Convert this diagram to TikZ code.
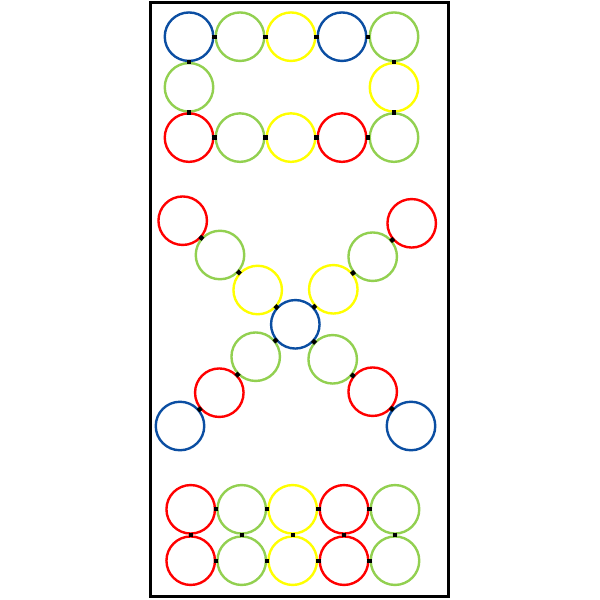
\documentclass[tikz,border=0pt]{standalone}
\usetikzlibrary{calc}
\definecolor{rblue}{HTML}{0B4EA2}
\definecolor{rgreen}{HTML}{92D050}
\definecolor{ryellow}{HTML}{FFFF00}
\definecolor{rred}{HTML}{FF0000}
\tikzset{
  ring/.style={circle, draw=#1, line width=2.4pt, minimum size=48.5pt, inner sep=0pt, outer sep=0pt},
  joint/.style={rectangle, fill=black, minimum size=4.3pt, inner sep=0pt, sloped},
  frame/.style={draw=black, line width=3pt}
}
\begin{document}
\begin{tikzpicture}[x=1pt,y=-1pt]
\useasboundingbox (0,0) rectangle (600,600);
\draw[frame] (150,2) rectangle (448.5,596.5);
% ---- top loop
\node[ring=rblue]   (t1) at (189,36.7) {};
\node[ring=rgreen]  (t2) at (240,36.7) {};
\node[ring=ryellow] (t3) at (291,36.7) {};
\node[ring=rblue]   (t4) at (342,36.7) {};
\node[ring=rgreen]  (t5) at (394,36.7) {};
\node[ring=rgreen]  (m1) at (189,87.3) {};
\node[ring=ryellow] (m5) at (394,87.3) {};
\node[ring=rred]    (b1) at (189,137.6) {};
\node[ring=rgreen]  (b2) at (240,137.6) {};
\node[ring=ryellow] (b3) at (291,137.6) {};
\node[ring=rred]    (b4) at (342,137.6) {};
\node[ring=rgreen]  (b5) at (394,137.6) {};
\foreach \a/\b in {t1/t2,t2/t3,t3/t4,t4/t5,t1/m1,m1/b1,t5/m5,m5/b5,b1/b2,b2/b3,b3/b4,b4/b5}
  \path (\a) -- node[joint]{} (\b);
% ---- X shape
\node[ring=rblue]   (xc)  at (295.3,324.3) {};
\node[ring=ryellow] (ul1) at (257.7,290) {};
\node[ring=rgreen]  (ul2) at (220,255) {};
\node[ring=rred]    (ul3) at (182.7,220.7) {};
\node[ring=ryellow] (ur1) at (333.3,289.3) {};
\node[ring=rgreen]  (ur2) at (372.7,256.7) {};
\node[ring=rred]    (ur3) at (411.7,223.3) {};
\node[ring=rgreen]  (ll1) at (255.7,356.7) {};
\node[ring=rred]    (ll2) at (219.3,392.7) {};
\node[ring=rblue]   (ll3) at (180,426) {};
\node[ring=rgreen]  (lr1) at (332.7,359.3) {};
\node[ring=rred]    (lr2) at (372.7,391.7) {};
\node[ring=rblue]   (lr3) at (411,426) {};
\foreach \a/\b in {xc/ul1,ul1/ul2,ul2/ul3,xc/ur1,ur1/ur2,ur2/ur3,xc/ll1,ll1/ll2,ll2/ll3,xc/lr1,lr1/lr2,lr2/lr3}
  \path (\a) -- node[joint]{} (\b);
% ---- bottom block
\foreach \i/\x/\c in {1/190.7/rred,2/241.7/rgreen,3/292.7/ryellow,4/344/rred,5/395/rgreen}{
  \node[ring=\c] (p\i) at (\x,509.3) {};
  \node[ring=\c] (q\i) at (\x,560.7) {};
}
\foreach \a/\b in {1/2,2/3,3/4,4/5}{
  \path (p\a) -- node[joint]{} (p\b);
  \path (q\a) -- node[joint]{} (q\b);
}
\foreach \a in {1,...,5}
  \path (p\a) -- node[joint]{} (q\a);
\end{tikzpicture}
\end{document}
